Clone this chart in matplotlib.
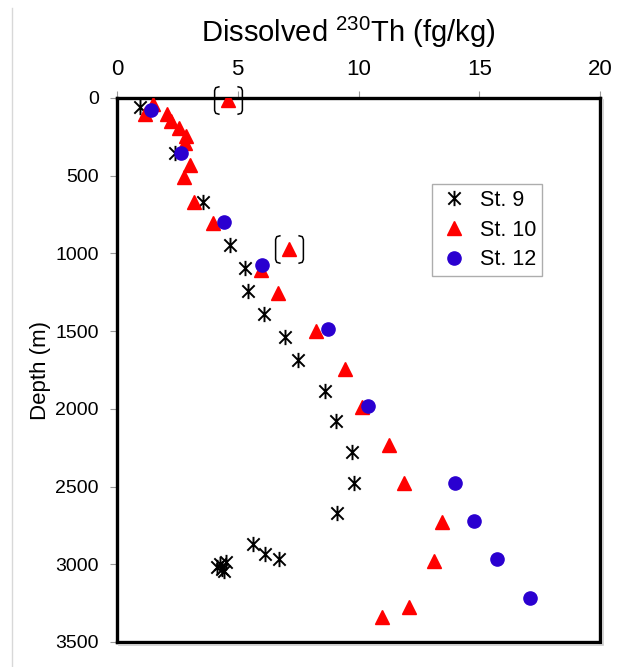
import matplotlib
matplotlib.use("Agg")
import matplotlib.pyplot as plt
from matplotlib.path import Path
from matplotlib.lines import Line2D

plt.rcParams["font.family"] = ["Liberation Sans", "DejaVu Sans"]
plt.rcParams["mathtext.fontset"] = "custom"
plt.rcParams["mathtext.rm"] = "Liberation Sans"

# St. 9 : dissolved 230Th (fg/kg) vs depth (m)
st9_th = [0.95, 2.40, 3.55, 4.68, 5.30, 5.44, 6.09, 6.96, 7.48, 8.61, 9.07,
          9.72, 9.81, 9.10, 5.62, 6.13, 6.72, 4.27, 4.50, 4.35, 4.15, 4.45]
st9_depth = [58, 352, 667, 944, 1092, 1240, 1390, 1536, 1686, 1883, 2081,
             2276, 2475, 2673, 2872, 2936, 2968, 3000, 2988, 3030, 3015, 3045]

# St. 10
st10_th = [4.61, 1.50, 1.18, 2.06, 2.22, 2.57, 2.86, 2.82, 3.02, 2.77, 3.18,
           3.99, 7.13, 5.98, 6.65, 8.23, 9.44, 10.16, 11.28, 11.88, 13.44,
           13.13, 12.10, 10.96]
st10_depth = [10, 38, 105, 105, 146, 191, 245, 292, 431, 506, 672,
              802, 970, 1104, 1253, 1497, 1746, 1986, 2233, 2480, 2726,
              2980, 3273, 3338]
st10_flagged = [0, 12]   # bracketed values

# St. 12
st12_th = [1.41, 2.65, 4.45, 6.02, 8.75, 10.38, 14.00, 14.78, 15.72, 17.10]
st12_depth = [77, 352, 798, 1072, 1488, 1980, 2475, 2722, 2968, 3219]

x_ticks = [0, 5, 10, 15, 20]
y_ticks = [0, 500, 1000, 1500, 2000, 2500, 3000, 3500]

# asterisk marker: X plus vertical bar
star = Path([(-0.5, -0.5), (0.5, 0.5), (-0.5, 0.5), (0.5, -0.5), (0, -0.62), (0, 0.62)],
            [Path.MOVETO, Path.LINETO, Path.MOVETO, Path.LINETO, Path.MOVETO, Path.LINETO])
# rounded square brackets around a flagged point
bracket = Path([(-0.32, 0.5), (-0.46, 0.46), (-0.5, 0.36), (-0.5, -0.36), (-0.46, -0.46), (-0.32, -0.5),
                (0.32, 0.5), (0.46, 0.46), (0.5, 0.36), (0.5, -0.36), (0.46, -0.46), (0.32, -0.5)],
               [Path.MOVETO] + [Path.LINETO] * 5 + [Path.MOVETO] + [Path.LINETO] * 5)

fig = plt.figure(figsize=(6.18, 6.67), dpi=100)
ax = fig.add_axes([117 / 618, 1 - 642 / 667, 483 / 618, 544 / 667])

ax.plot(st9_th, st9_depth, ls="none", marker=star, ms=11, mec="black", mfc="none",
        mew=1.4, label="St. 9", zorder=3)
ax.plot(st10_th, st10_depth, ls="none", marker="^", ms=10, mfc="#ff0000", mec="#ff0000",
        label="St. 10", zorder=4)
ax.plot(st12_th, st12_depth, ls="none", marker="o", ms=9.5, mfc="#2a00d0", mec="#2a00d0",
        label="St. 12", zorder=5)
ax.plot([st10_th[i] for i in st10_flagged], [st10_depth[i] for i in st10_flagged],
        ls="none", marker=bracket, ms=20, mec="black", mfc="none", mew=1.1, zorder=6,
        clip_on=False)

ax.set_xlim(0, 20)
ax.set_ylim(3500, 0)
ax.set_xticks(x_ticks)
ax.set_yticks(y_ticks)
ax.xaxis.tick_top()
ax.tick_params(axis="both", direction="out", length=5, width=0.8, color="#999999")
ax.tick_params(axis="x", pad=8, labelsize=16)
ax.tick_params(axis="y", pad=8, labelsize=14)
for s in ax.spines.values():
    s.set_linewidth(2.4)
    s.set_color("black")

ax.set_ylabel("Depth (m)", fontsize=16)
ax.yaxis.set_label_coords(-0.137, 0.5)
fig.text(348 / 618, 1 - 32 / 667, "Dissolved $\\mathregular{^{230}}$Th (fg/kg)", fontsize=21,
         ha="center", va="center")

leg = ax.legend(loc="upper left", bbox_to_anchor=(432 / 618, 1 - 184 / 667),
                bbox_transform=fig.transFigure, fontsize=15.5, frameon=True, fancybox=False,
                borderaxespad=0, handlelength=1.5, handletextpad=0.45, borderpad=0.28,
                labelspacing=0.4)
leg.get_frame().set_edgecolor("#999999")
leg.get_frame().set_linewidth(1.0)

# light shadow of the plot frame and the page edge line
fig.add_artist(Line2D([602.5 / 618, 602.5 / 618], [1 - 644 / 667, 1 - 100 / 667],
                      color="#cccccc", lw=1.2))
fig.add_artist(Line2D([119 / 618, 602.5 / 618], [1 - 644.5 / 667, 1 - 644.5 / 667],
                      color="#cccccc", lw=1.2))
fig.add_artist(Line2D([12 / 618, 12 / 618], [0, 1 - 8 / 667], color="#d8d8d8", lw=1.0))

fig.savefig("out.png", dpi=100)
